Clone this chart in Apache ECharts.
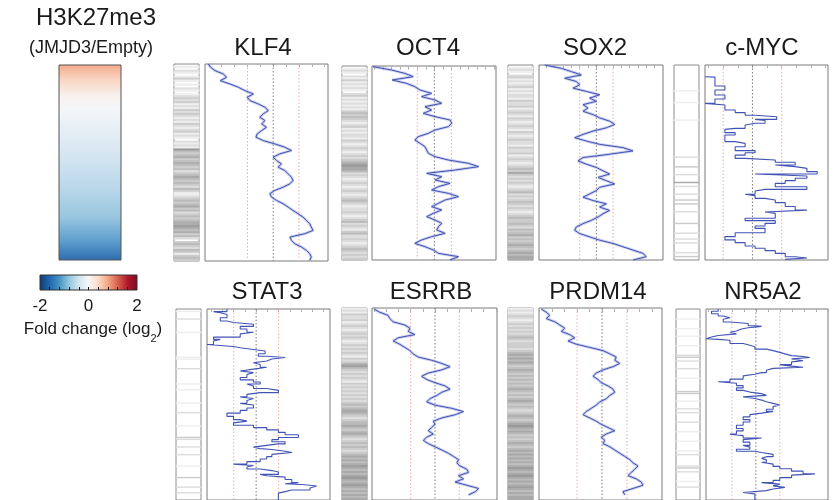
<!DOCTYPE html>
<html><head><meta charset="utf-8">
<script src="https://cdn.jsdelivr.net/npm/echarts@6/dist/echarts.min.js"></script>
<style>html,body{margin:0;padding:0;background:#fff}#c{width:837px;height:500px}</style>
</head><body><div id="c"></div>
<script>
// ---------------- DATA ----------------
const panelNames = ['KLF4', 'OCT4', 'SOX2', 'c-MYC', 'STAT3', 'ESRRB', 'PRDM14', 'NR5A2'];

// running profiles (x value per equally spaced rank step, top -> bottom)
const klf4Profile = [-2.52,-2.43,-2.26,-1.94,-1.81,-2.06,-1.68,-1.35,-1.10,-0.77,
  -1.01,-0.90,-0.58,-0.32,-0.19,-0.39,-0.52,-0.32,-0.45,-0.26,
  -0.45,-0.62,-0.67,-0.39,0.06,0.45,0.71,0.26,0.00,0.13,
  0.32,0.19,0.45,0.58,0.71,0.77,0.65,0.39,0.06,-0.13,
  -0.06,0.13,0.39,0.58,0.77,0.97,1.16,1.29,1.42,1.48,
  1.55,1.23,0.65,0.71,0.84,1.10,1.29,1.42,1.48,1.42];
const oct4Profile = [-3.59,-2.51,-1.73,-1.24,-2.47,-1.63,-1.14,-0.84,-0.16,-0.75,
  0.04,0.43,-0.55,-0.16,-0.65,0.04,0.92,1.02,0.82,0.04,
  -0.35,-0.94,-1.14,-0.84,-0.55,-0.45,-0.35,0.04,0.82,2.00,
  2.59,1.22,-0.45,0.43,0.04,0.92,0.24,-0.16,0.82,1.41,
  0.63,0.24,-0.16,0.43,-0.06,-0.45,0.04,0.43,0.24,0.14,
  0.63,-0.16,-0.75,-1.14,-0.55,-0.06,0.24,1.41,0.92];
const sox2Profile = [-3.10,-2.10,-1.50,-0.90,-1.90,-1.20,-1.00,-1.40,-0.60,0.20,
  -0.40,0.00,-0.80,-0.50,-0.80,-0.20,0.20,0.80,1.10,0.60,
  -0.20,-0.80,-1.30,-0.60,0.20,1.60,2.20,0.80,-0.80,-1.10,
  -0.60,0.00,0.40,0.80,0.10,0.60,1.10,0.20,0.00,-0.40,
  -0.80,-0.20,0.60,0.20,0.80,0.40,0.10,-0.30,-0.80,-1.20,
  -1.30,-1.00,-0.40,0.20,1.00,1.60,2.20,2.80,3.00,2.20];
const esrrbProfile = [-2.51,-2.28,-1.93,-1.86,-1.72,-1.24,-1.03,-1.10,-0.83,-1.52,
  -1.72,-1.45,-1.24,-1.03,-0.90,-0.69,-0.14,0.28,0.62,0.28,
  -0.28,-0.55,-0.34,0.00,0.41,0.62,0.28,0.07,-0.21,-0.34,
  0.00,0.69,1.17,0.83,0.28,-0.07,0.00,-0.14,-0.28,-0.07,
  -0.34,-0.48,-0.28,0.00,0.28,0.55,0.76,0.97,0.90,1.03,
  1.31,1.38,0.97,1.17,0.83,1.31,1.79,1.66,1.38];
const prdm14Profile = [-2.43,-2.23,-2.09,-2.23,-1.89,-1.69,-1.49,-1.63,-1.29,-1.09,
  -1.36,-1.03,-0.49,0.04,0.31,0.57,0.51,0.71,0.44,0.04,
  -0.23,-0.36,-0.16,-0.03,0.24,0.44,0.51,0.31,0.17,-0.09,
  -0.23,-0.43,-0.63,-0.76,-0.49,-0.23,-0.03,0.24,0.51,0.17,
  -0.03,0.11,0.04,0.31,0.51,0.71,0.91,1.11,1.24,1.44,
  1.31,1.17,1.04,1.37,1.57,1.64,1.24,0.84,0.91];

// step profiles: level value and the rank (0-100) where each level starts
const cmycLevels = [-1.62,-1.28,-0.94,-1.28,-0.94,-1.28,-1.62,-0.94,-0.59,-0.25,0.09,0.83,0.09,0.43,0.09,-0.25,-0.59,-0.94,-0.59,-0.94,-0.59,-0.25,-0.59,0.09,-0.25,-0.59,-0.25,0.78,1.46,0.78,1.46,1.86,2.21,0.09,1.86,1.46,1.12,0.78,1.86,0.43,0.09,-0.25,0.09,0.43,0.78,1.12,1.46,1.86,0.43,0.78,-0.25,0.78,0.43,0.09,0.43,-0.59,-0.94,-0.59,-0.25,0.09,0.43,0.78,1.12,1.46,1.86,1.12];
const cmycStarts = [6.0,6.2,10.8,12.8,15.4,17.4,19.7,20.5,23.1,24.4,25.8,26.5,27.9,28.5,29.9,30.8,32.5,33.0,34.7,35.9,39.3,40.2,41.9,43.9,45.0,46.2,47.9,48.7,49.9,51.3,52.1,53.0,54.7,55.9,56.9,58.1,59.3,60.7,62.4,63.8,64.6,66.3,67.0,68.4,69.2,70.6,72.6,74.4,75.4,76.1,78.6,79.8,81.2,82.6,83.8,86.0,88.0,89.7,91.1,92.8,94.0,95.2,96.6,98.3,99.0,99.7];
const stat3Levels = [-1.30,-1.90,-1.60,-1.30,-1.60,-1.30,-1.01,-0.12,-0.71,-0.41,-0.12,-0.71,-1.90,-1.60,-1.90,-2.19,-1.01,-0.71,-0.12,0.40,0.10,0.47,1.29,0.70,0.47,-0.12,0.18,0.47,-0.12,-0.71,-0.12,-0.41,-0.71,-0.12,0.18,-0.41,-0.12,0.47,0.99,0.18,-0.41,-0.71,-0.12,-0.41,-0.71,-0.12,-0.41,-0.71,-1.30,-1.01,-0.71,-0.41,-1.01,-0.12,0.47,0.99,1.29,1.88,0.99,0.70,1.29,0.99,0.47,-0.12,0.18,0.70,1.29,1.59,0.70,0.47,0.18,-0.41,-1.01,-0.12,-0.41,0.18,0.70,0.99,0.18,0.47,1.29,1.59,1.88,1.29,2.18,2.70,2.40,1.59,1.29,0.99];
const stat3Starts = [0,1.4,2.0,2.9,4.6,6.3,7.1,8.0,9.1,10.5,12.2,13.0,14.7,15.9,16.8,18.6,19.6,20.3,21.2,22.0,23.4,24.7,25.4,26.2,27.2,28.1,29.1,30.5,31.5,32.5,33.3,34.3,35.9,37.1,38.2,39.3,40.3,41.6,42.6,43.8,44.7,46.0,46.9,47.9,49.4,50.3,51.8,53.1,54.5,56.2,57.9,58.7,59.6,60.9,62.1,63.3,64.6,65.8,67.3,68.4,69.5,70.6,71.4,72.3,73.1,73.6,74.5,75.1,76.1,77.3,78.5,79.9,81.2,81.9,82.7,83.8,84.6,85.3,86.6,87.3,88.0,89.3,90.9,91.5,92.0,92.7,93.7,94.8,95.6,96.4];
const nr5a2Levels = [-1.57,-1.85,-1.57,-1.36,-1.08,-1.36,-1.08,-0.32,-0.04,0.24,-0.32,-0.60,-0.81,-1.08,-0.81,-1.57,-1.85,-2.08,-1.57,-1.08,-0.53,-0.25,-0.04,0.44,0.72,1.00,1.21,1.49,1.97,2.25,1.49,1.97,1.49,1.00,1.49,1.97,0.72,0.44,0.24,-0.04,-0.53,-1.08,-1.57,-0.81,-0.53,-0.81,-0.53,-0.25,0.24,0.44,-0.53,-0.04,0.24,0.44,0.72,1.00,0.72,0.44,0.72,0.24,-0.25,-0.53,-0.25,-0.53,-0.81,-0.53,-0.81,-1.08,-0.53,0.24,-0.53,-0.25,-0.53,-0.25,-0.81,-0.04,0.24,0.72,0.44,0.24,0.44,0.24,0.72,1.00,1.49,1.97,2.46,1.49,1.00,0.72,0.24,1.00,0.72,1.21,0.72,0.44,-0.53,-0.04];
const nr5a2Starts = [0,1.2,2.5,3.7,4.6,5.4,6.8,7.6,8.8,9.1,9.8,10.5,11.5,12.2,13.0,13.9,14.7,15.6,15.9,16.4,18.1,19.0,19.8,21.0,21.8,22.7,23.5,24.4,24.9,25.4,26.1,27.1,27.7,29.1,29.9,30.5,31.1,32.1,33.3,34.2,35.0,36.7,38.1,38.9,40.1,41.3,42.6,43.5,44.3,45.2,46.0,46.9,47.7,48.6,49.4,50.3,51.1,52.5,53.6,54.5,55.3,56.5,57.9,59.2,60.9,62.6,63.8,65.5,66.3,67.5,68.4,69.7,71.4,72.3,73.4,74.5,75.1,76.1,77.3,78.2,79.0,80.2,81.2,82.4,83.6,84.9,86.3,87.0,88.3,89.7,90.9,91.7,92.6,93.4,94.2,95.1,96.1,96.8];

// barcode intensities (0 = none ... 8 = darkest), 100 rows top -> bottom
const klf4Barcode = [0,1,0,2,1,0,1,3,1,0,1,0,2,1,0,1,2,
  3,2,3,1,2,1,3,2,3,2,1,2,1,3,2,1,2,3,1,2,1,0,2,1,2,1,
  6,
  4,3,4,5,3,4,5,4,3,4,2,3,4,5,4,3,4,3,2,4,3,1,1,2,3,4,3,4,5,3,4,2,3,4,3,4,5,
  5,6,5,4,5,
  3,4,2,0,3,4,3,2,4,3,1,3,4,3];
const oct4Barcode = [0,1,2,1,0,2,1,3,1,2,1,2,1,0,2,3,1,2,1,2,1,2,1,
  3,4,3,4,3,
  2,1,2,3,1,2,1,2,2,1,3,2,1,2,3,2,1,2,3,2,3,4,
  5,6,5,5,4,
  2,3,2,1,2,3,2,1,2,3,2,1,2,3,4,3,2,1,2,2,3,2,1,2,3,4,2,3,2,1,3,4,2,2,3,2,1,2,3,4,3,2,3,2,3];
const sox2Barcode = [0,1,2,1,0,2,3,1,2,1,2,3,1,2,1,2,2,1,3,2,
  2,3,1,2,3,2,1,3,2,1,2,3,2,1,3,2,1,2,3,2,
  2,1,3,2,2,3,1,2,3,2,1,2,3,4,3,5,3,2,3,2,
  3,2,1,2,3,4,2,3,2,3,4,3,2,3,2,1,2,3,4,3,
  3,4,3,2,4,3,4,5,3,4,3,4,5,4,3,4,5,4,5,5];
const esrrbBarcode = [1,2,1,3,2,2,3,1,2,3,2,1,2,3,2,3,2,1,2,3,
  2,3,2,3,2,1,3,2,3,5,6,4,3,2,3,2,3,2,1,3,
  2,3,2,3,2,3,2,3,2,3,4,3,4,5,5,4,3,2,3,4,
  4,5,4,3,4,5,4,3,2,3,4,3,4,3,2,3,4,5,4,5,
  4,5,6,5,4,5,4,5,6,5,4,5,6,5,4,5,4,5,4,5];
const prdm14Barcode = [1,2,1,2,3,2,1,2,3,2,3,2,3,2,3,4,3,2,3,3,
  3,2,3,4,5,4,5,4,5,4,3,4,5,4,3,4,3,4,3,4,
  3,4,5,4,3,4,3,4,5,4,3,4,3,2,3,4,5,4,3,4,
  5,6,5,4,5,4,3,4,3,4,5,4,3,4,5,4,5,4,5,4,
  5,4,5,6,5,4,5,6,5,4,5,4,5,6,5,4,5,4,5,5];
// sparse barcodes: row index and intensity
const cmycBarRows = [13,19,28,47,52,56,60,62,66,69,71,75,81,86,89,91,96,98];
const cmycBarVals = [1,1,1,2,3,2,5,2,2,3,3,2,3,2,2,2,2,3];
const stat3BarRows = [1,5,12,25,26,31,39,42,49,54,61,67,68,72,76,82,88,93,96];
const stat3BarVals = [1,2,1,1,1,2,1,1,1,2,1,3,2,2,2,1,3,2,2];
const nr5a2BarRows = [5,10,14,19,24,25,27,31,36,43,44,48,52,54,59,64,69,74,76,82,83,85,90,93];
const nr5a2BarVals = [1,1,1,1,2,3,2,2,1,3,3,1,2,2,2,1,1,1,2,2,3,2,1,2];

// colour-bar tick labels
const foldTickLabels = [-2, 0, 2];
// reference lines drawn in every profile panel
const refLines = [-1, 0, 1];

// ---------------- BUILD ----------------
const FONT = "'Liberation Sans', Arial, Helvetica, sans-serif";
const BAR_ROWS = 100;

function sparseToFull(rows, vals) {
  const a = new Array(BAR_ROWS).fill(0);
  rows.forEach((r, k) => { a[r] = vals[k]; });
  return a;
}
function stepPoints(levels, starts, end) {
  const n = Math.min(levels.length, starts.length), pts = [];
  for (let i = 0; i < n; i++) {
    const y1 = i + 1 < n ? starts[i + 1] : end;
    pts.push([levels[i], starts[i]], [levels[i], y1]);
  }
  return pts;
}
const smooth = arr => arr.map((v, i) => [v, i]);

const panels = [
  {data: smooth(klf4Profile), bar: klf4Barcode, step: false, xr: [-2.65, 2.13], yr: [0, 59.2]},
  {data: smooth(oct4Profile), bar: oct4Barcode, step: false, xr: [-3.65, 3.61], yr: [-0.2, 58]},
  {data: smooth(sox2Profile), bar: sox2Barcode, step: false, xr: [-3.44, 4.0], yr: [0, 59]},
  {data: stepPoints(cmycLevels, cmycStarts, 100), bar: sparseToFull(cmycBarRows, cmycBarVals), step: true, xr: [-1.62, 2.58], yr: [0, 100]},
  {data: stepPoints(stat3Levels, stat3Starts, 100), bar: sparseToFull(stat3BarRows, stat3BarVals), step: true, xr: [-2.19, 3.29], yr: [0, 100]},
  {data: smooth(esrrbProfile), bar: esrrbBarcode, step: false, xr: [-2.59, 2.55], yr: [-0.3, 59.6]},
  {data: smooth(prdm14Profile), bar: prdm14Barcode, step: false, xr: [-2.52, 2.40], yr: [-0.3, 59.6]},
  {data: stepPoints(nr5a2Levels, nr5a2Starts, 100), bar: sparseToFull(nr5a2BarRows, nr5a2BarVals), step: true, xr: [-2.08, 3.01], yr: [0, 100]}
];
// layout (pixels)
const boxes = [
  {bar: [174, 64, 25, 197], line: [205, 64, 123, 197], title: [263, 48]},
  {bar: [342, 66, 25, 194], line: [372, 66, 124, 194], title: [428, 48]},
  {bar: [508, 65, 25, 195], line: [539, 65, 124, 195], title: [595, 48]},
  {bar: [674, 65, 25, 195], line: [705, 65, 123, 195], title: [762, 48]},
  {bar: [176, 309, 25, 197], line: [207, 309, 123, 197], title: [267, 292]},
  {bar: [342, 308, 25, 197], line: [372, 308, 125, 197], title: [431, 292]},
  {bar: [508, 308, 25, 197], line: [539, 308, 123, 197], title: [598, 292]},
  {bar: [676, 309, 24, 197], line: [706, 309, 122, 197], title: [763, 292]}
];

const grids = [], xAxes = [], yAxes = [], series = [], barSeriesIdx = [], graphics = [];
const rowCats = Array.from({length: BAR_ROWS * 2}, (_, i) => String(i));

panels.forEach((p, k) => {
  const b = boxes[k];
  // barcode grid (each data row = 2 sub-rows; sparse strips use thin single sub-row lines)
  const gBar = grids.length;
  grids.push({left: b.bar[0], top: b.bar[1], width: b.bar[2], height: b.bar[3], show: true, borderColor: '#8c8c8c', borderWidth: 1});
  xAxes.push({gridIndex: gBar, type: 'category', data: [''], show: false});
  yAxes.push({gridIndex: gBar, type: 'category', data: rowCats, inverse: true, show: false});
  barSeriesIdx.push(series.length);
  const cells = [];
  p.bar.forEach((v, i) => {
    if (v <= 0) return;
    cells.push([0, 2 * i, v]);
    if (!p.step) cells.push([0, 2 * i + 1, v]);
  });
  series.push({type: 'heatmap', xAxisIndex: gBar, yAxisIndex: gBar, silent: true, data: cells});
  // profile grid
  const gL = grids.length;
  grids.push({left: b.line[0], top: b.line[1], width: b.line[2], height: b.line[3], show: true, borderColor: '#7a7a7a', borderWidth: 1});
  const ticks = [];
  for (let t = Math.ceil(p.xr[0] * 2) / 2; t < p.xr[1]; t += 0.5) ticks.push(t);
  xAxes.push({gridIndex: gL, type: 'value', min: p.xr[0], max: p.xr[1], position: 'top',
    axisLine: {show: false}, splitLine: {show: false}, axisLabel: {show: false},
    axisTick: {show: true, inside: true, length: 3, customValues: ticks, lineStyle: {color: '#b0b0b0', width: 1}}});
  yAxes.push({gridIndex: gL, type: 'value', min: p.yr[0], max: p.yr[1], inverse: true, show: false});
  refLines.forEach(r => {
    series.push({type: 'line', xAxisIndex: gL, yAxisIndex: gL, silent: true, z: 1, showSymbol: false,
      data: [[r, p.yr[0]], [r, p.yr[1]]],
      lineStyle: {color: r === 0 ? '#7d7d7d' : '#f2a9a9', type: [1.5, 2], width: 1}});
  });
  if (!p.step) {
    // soft halo imitating the dense jitter of the original profile line
    series.push({type: 'line', xAxisIndex: gL, yAxisIndex: gL, data: p.data, showSymbol: false, silent: true, z: 2,
      lineStyle: {color: '#8390d4', width: 2.8, opacity: 0.45}});
  }
  series.push({type: 'line', xAxisIndex: gL, yAxisIndex: gL, data: p.data, showSymbol: false, silent: true, z: 3,
    lineStyle: {color: '#4253b6', width: p.step ? 1.1 : 1}});
  graphics.push({type: 'text', x: b.title[0], y: b.title[1], silent: true,
    style: {text: panelNames[k], fill: '#1a1a1a', font: '24px ' + FONT, fontSize: 24, fontFamily: FONT,
      align: 'center', verticalAlign: 'middle', textAlign: 'center', textVerticalAlign: 'middle'}});
});

// colour-bar axis grid
const gC = grids.length;
grids.push({left: 40, top: 275, width: 97, height: 15, show: false});
xAxes.push({gridIndex: gC, type: 'value', min: -2, max: 2, position: 'bottom', z: 10,
  axisLine: {show: false}, splitLine: {show: false},
  axisTick: {show: true, inside: true, length: 3, customValues: [-1.6,-1.2,-0.8,-0.4,0,0.4,0.8,1.2,1.6], lineStyle: {color: '#111', width: 1}},
  axisLabel: {show: true, customValues: foldTickLabels, fontSize: 17, fontFamily: FONT, color: '#1a1a1a', margin: 8}});
yAxes.push({gridIndex: gC, type: 'value', min: 0, max: 1, show: false});

// colour bars & labels
graphics.push({type: 'rect', z: 1, silent: true, shape: {x: 59, y: 65, width: 62, height: 195},
  style: {stroke: '#555', lineWidth: 1, fill: {type: 'linear', x: 0, y: 0, x2: 0, y2: 1, colorStops: [
    {offset: 0, color: '#f4a988'}, {offset: 0.07, color: '#f9d2bf'}, {offset: 0.16, color: '#f8f1ee'},
    {offset: 0.22, color: '#f4f6f8'}, {offset: 0.42, color: '#dbe9f3'}, {offset: 0.62, color: '#bcd9ea'},
    {offset: 0.78, color: '#98c6df'}, {offset: 0.9, color: '#5e9ecd'}, {offset: 1, color: '#2c6cae'}]}}});
graphics.push({type: 'rect', z: 1, silent: true, shape: {x: 40, y: 275, width: 97, height: 15},
  style: {stroke: '#333', lineWidth: 1, fill: {type: 'linear', x: 0, y: 0, x2: 1, y2: 0, colorStops: [
    {offset: 0, color: '#0d3a70'}, {offset: 0.1, color: '#2166ac'}, {offset: 0.2, color: '#4393c3'},
    {offset: 0.3, color: '#92c5de'}, {offset: 0.4, color: '#d1e5f0'}, {offset: 0.5, color: '#f7f7f7'},
    {offset: 0.6, color: '#fddbc7'}, {offset: 0.7, color: '#f4a582'}, {offset: 0.8, color: '#d6604d'},
    {offset: 0.9, color: '#b2182b'}, {offset: 1, color: '#7a0a24'}]}}});
function txt(t, x, y, size) {
  return {type: 'text', x, y, silent: true, style: {text: t, fill: '#1a1a1a', font: size + 'px ' + FONT,
    fontSize: size, fontFamily: FONT, align: 'center', verticalAlign: 'middle', textAlign: 'center', textVerticalAlign: 'middle'}};
}
graphics.push(txt('H3K27me3', 96, 18, 24));
graphics.push(txt('(JMJD3/Empty)', 91, 48, 18));
graphics.push({type: 'text', x: 93, y: 329, silent: true, style: {text: 'Fold change (log{s|2})', fill: '#1a1a1a',
  font: '17px ' + FONT, fontSize: 17, fontFamily: FONT, align: 'center', verticalAlign: 'middle',
  textAlign: 'center', textVerticalAlign: 'middle',
  rich: {s: {fontSize: 11, fontFamily: FONT, fill: '#1a1a1a', verticalAlign: 'bottom', lineHeight: 30}}}});

const chart = echarts.init(document.getElementById('c'), null, {renderer: 'canvas'});
chart.setOption({
  animation: false,
  backgroundColor: '#ffffff',
  grid: grids, xAxis: xAxes, yAxis: yAxes, series,
  visualMap: [{show: false, type: 'continuous', seriesIndex: barSeriesIdx, min: 0, max: 8, dimension: 2,
    inRange: {color: ['#ffffff', '#767676']}}],
  graphic: graphics
});
</script></body></html>
